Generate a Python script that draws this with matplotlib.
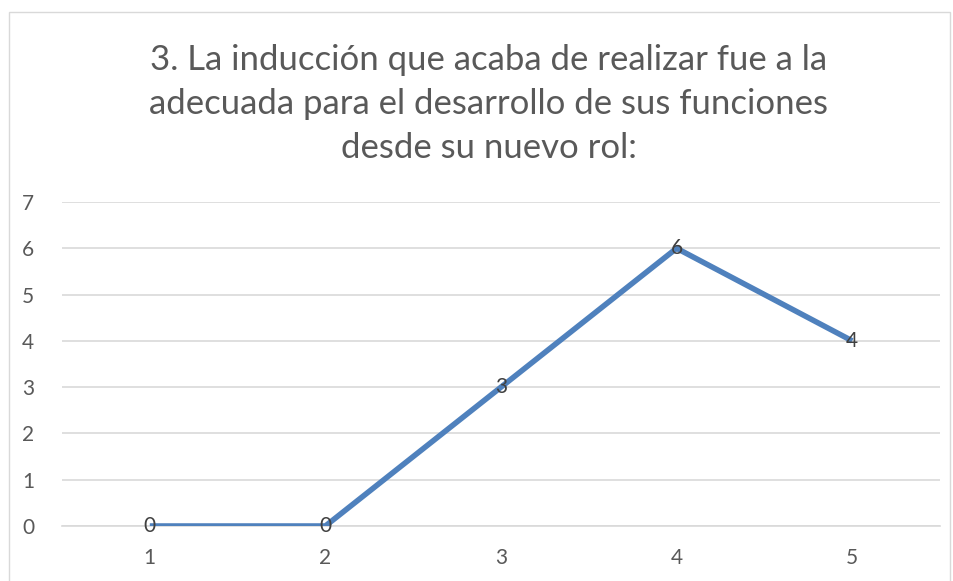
import matplotlib.pyplot as plt
from matplotlib.patches import Rectangle

categorias = ['1', '2', '3', '4', '5']
valores = [0, 0, 3, 6, 4]
titulo = ('3. La inducción que acaba de realizar fue a la\n'
          'adecuada para el desarrollo de sus funciones\n'
          'desde su nuevo rol:')

plt.rcParams['font.family'] = ['Lato', 'DejaVu Sans']

fig = plt.figure(figsize=(9.54, 5.81), dpi=100)
ax = fig.add_axes([62/954, 1 - 526/581, 878/954, 324/581])

# borde del grafico
fig.patches.append(Rectangle((9/954, -0.01), 941/954, 1 - 12/581 + 0.01,
                             transform=fig.transFigure, fill=False,
                             edgecolor='#d9d9d9', linewidth=1))

x = range(len(categorias))
ax.plot(x, valores, color='#4f81bd', linewidth=4, solid_capstyle='butt',
        solid_joinstyle='miter', zorder=3)
for i, v in zip(x, valores):
    ax.text(i, v, str(v), ha='center', va='center', fontsize=15,
            color='#404040', zorder=4)

ax.set_xlim(-0.5, len(categorias) - 0.5)
ax.set_ylim(0, 7)
ax.set_yticks(range(0, 8))
ax.set_xticks(list(x))
ax.set_xticklabels(categorias)
ax.grid(axis='y', color='#d9d9d9', linewidth=1.2)
ax.set_axisbelow(True)
for s in ['top', 'right', 'left']:
    ax.spines[s].set_visible(False)
ax.spines['bottom'].set_color('#d9d9d9')
ax.spines['bottom'].set_linewidth(1.2)
ax.tick_params(axis='both', length=0, labelsize=15, labelcolor='#595959')
ax.tick_params(axis='y', pad=20)
ax.tick_params(axis='x', pad=16)

fig.text(489/954, 1 - 104/581, titulo, ha='center', va='center', fontsize=25,
         color='#595959', linespacing=1.45)

plt.savefig('out.png', dpi=100)
plt.close()
